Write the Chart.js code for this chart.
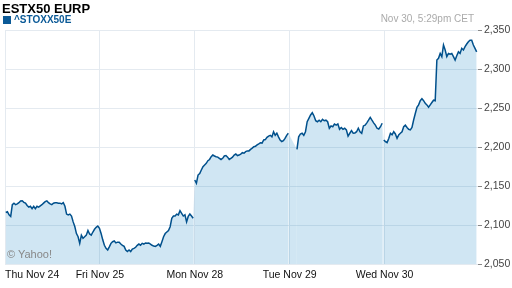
<!DOCTYPE html>
<html><head><meta charset="utf-8">
<script src="https://cdn.jsdelivr.net/npm/chart.js@4/dist/chart.umd.min.js"></script>
<style>
html,body{margin:0;padding:0;background:#fff;}
#wrap{position:relative;width:512px;height:288px;overflow:hidden;font-family:"Liberation Sans",Arial,sans-serif;}
#c{position:absolute;left:0;top:0;}
.t{position:absolute;white-space:nowrap;line-height:1;}
#title{left:2px;top:2px;font-weight:bold;font-size:13px;color:#000;}
#sq{position:absolute;left:3px;top:16px;width:8px;height:8px;background:#0b5a97;}
#leg{left:14px;top:15px;font-weight:bold;font-size:10px;color:#0b5a97;}
#date{right:38px;top:14px;font-size:10px;color:#aaa;}
#yh{left:7px;top:249px;font-size:11px;color:#888;}
</style></head>
<body>
<div id="wrap">
<canvas id="c" width="512" height="288"></canvas>
<div class="t" id="title">ESTX50 EURP</div>
<div id="sq"></div>
<div class="t" id="leg">^STOXX50E</div>
<div class="t" id="date">Nov 30, 5:29pm CET</div>
<div class="t" id="yh">© Yahoo!</div>
</div>
<script>
// ---- data ----
const dayLabels = ['Thu Nov 24', 'Fri Nov 25', 'Mon Nov 28', 'Tue Nov 29', 'Wed Nov 30'];
const yTicks = [2050, 2100, 2150, 2200, 2250, 2300, 2350];
// session open/close times, in trading days from Thu open
const sessionOpen  = [0.008, 2.000, 3.077, 3.992];
const sessionClose = [1.983, 2.986, 3.975, 4.971];
const seriesThuFri = [2116,2117,2113,2111,2126,2128,2126,2127,2128.6,2130.8,2131,2129,2128,2125,2123,2124,2121,2124,2121,2124,
  2123,2124.6,2126,2128,2130,2131,2128.6,2127,2126,2128,2128.6,2128.6,2128,2128,2127,2128.6,2124,2114,2113,2114,
  2111.5,2104,2098,2089,2085,2076.5,2087,2083,2085,2087,2093,2088.5,2087,2091,2094.5,2097,2098.7,2095.8,2089,2081,
  2074,2070,2068,2072,2076.5,2078.6,2079.5,2077,2078,2078,2075.6,2074,2072.6,2068,2066,2068,2066,2069,2070,2071.4,
  2074,2075.6,2074,2076.5,2075.6,2077,2076.5,2077,2075.6,2074,2073,2072.6,2074,2075.6,2072.6,2078.6,2085,2089,2091,2093,
  2097.8,2108.6,2111.5,2111.5,2114,2113,2118.4,2115,2111.5,2113,2104,2111,2114,2111.5,2108.6];
const seriesMon = [2157.7,2153.5,2164,2166,2170.5,2174.8,2177,2179,2182.4,2184,2187.6,2189.7,2188.5,2187.6,2187,2185.5,2184,2185.5,2188.5,2189,
  2187,2184,2185.5,2187,2189.7,2191,2189,2189.7,2191,2192.7,2192,2194,2195,2195,2197,2198.5,2200.4,2201,2202.6,2204,
  2205.5,2205,2209,2209.5,2212.4,2214,2215,2213,2219.6,2215,2217.6,2213,2209,2207,2208,2211,2215,2217.6];
const seriesTue = [2197,2213,2216.7,2217.6,2215,2219.6,2232.4,2236.8,2241,2244,2239.7,2233.7,2232.4,2234.4,2232.4,2235.5,2233.7,2234.4,2232.4,2224,
  2227,2226,2229.5,2228,2229.5,2222.7,2225,2222.7,2224,2221.8,2214,2217.6,2221,2217.6,2218,2219.6,2224,2219.6,2217.6,2227,
  2228,2231,2234.4,2238,2234.4,2231,2228,2224,2223,2226,2230.4];
const seriesWed = [2209,2207,2205.6,2211,2217.6,2215.6,2219.6,2216.7,2211,2215.6,2217.6,2219.6,2226,2228,2225,2222.7,2222,2225,2234.6,2243,
  2251,2254,2259.4,2262,2259.4,2256,2254,2251,2254,2257,2260,2259.4,2311.5,2313.7,2320,2315.8,2330.8,2324.4,2315.8,2320,
  2319,2320,2315.8,2311.5,2317,2322,2320,2326.5,2324.4,2328.6,2332,2335,2337,2337,2330.8,2326.5,2322];
const sessions = [seriesThuFri, seriesMon, seriesTue, seriesWed];

// ---- build points ----
const points = [];
const gapStarts = new Set();
sessions.forEach((vals, s) => {
  if (s > 0) gapStarts.add(points.length);
  const a = sessionOpen[s], b = sessionClose[s], n = vals.length;
  vals.forEach((v, i) => points.push({ x: a + (b - a) * i / (n - 1), y: v }));
});

const lineColor = '#00508c';
const gridColor = '#e4eaf0';
const xMax = 4.985;

new Chart(document.getElementById('c'), {
  type: 'line',
  data: { datasets: [{
    data: points,
    borderColor: lineColor,
    borderWidth: 1.5,
    backgroundColor: 'rgba(0,120,190,0.184)',
    fill: 'start',
    pointRadius: 0,
    tension: 0,
    segment: { borderColor: ctx => gapStarts.has(ctx.p1DataIndex) ? 'rgba(0,0,0,0)' : lineColor }
  }]},
  options: {
    responsive: false, animation: false, devicePixelRatio: 1,
    layout: { padding: { left: 2, top: 30, right: 0, bottom: 0 } },
    plugins: { legend: { display: false }, tooltip: { enabled: false } },
    scales: {
      x: {
        type: 'linear', min: 0, max: xMax,
        afterBuildTicks: s => { s.ticks = [0, 1, 2, 3, 4, xMax].map(v => ({ value: v })); },
        afterFit: s => { s.height = 24; },
        border: { display: false },
        grid: { color: c => c.index === 5 ? 'rgba(0,0,0,0)' : gridColor, drawTicks: false, lineWidth: 1 },
        ticks: {
          autoSkip: false, maxRotation: 0, align: 'inner', padding: 5,
          color: '#111', font: { family: 'Liberation Sans', size: 10.5 },
          callback: (v, i) => dayLabels[i] ?? ''
        }
      },
      y: {
        type: 'linear', position: 'right', min: 2050, max: 2350,
        afterBuildTicks: s => { s.ticks = yTicks.map(v => ({ value: v })); },
        afterFit: s => { s.width = 34; },
        border: { display: false },
        grid: { color: gridColor, tickColor: '#888', tickLength: 4, lineWidth: 1 },
        ticks: {
          padding: 2, color: '#444', font: { family: 'Liberation Sans', size: 10.5 },
          callback: v => v.toLocaleString('en-US')
        }
      }
    }
  }
});
</script>
</body></html>
